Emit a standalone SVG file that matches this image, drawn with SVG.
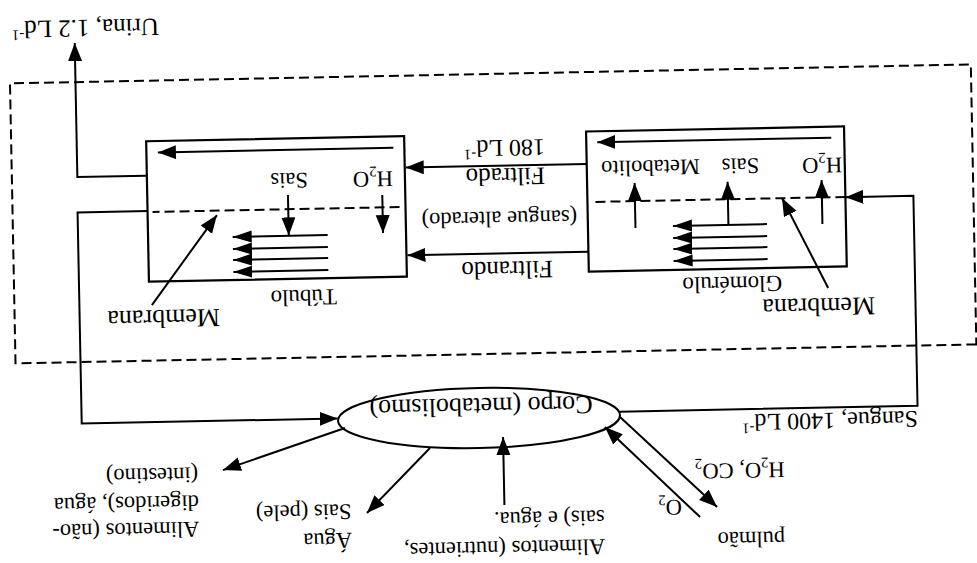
<svg xmlns="http://www.w3.org/2000/svg" width="977" height="563" viewBox="0 0 977 563">
  <defs>
    <marker id="ah" markerUnits="userSpaceOnUse" markerWidth="19" markerHeight="15" refX="18" refY="7" orient="auto">
      <path d="M0,0 L18,7 L0,14 z" fill="#000"/>
    </marker>
    <marker id="ahs" markerUnits="userSpaceOnUse" markerWidth="20" markerHeight="13" refX="19" refY="6" orient="auto">
      <path d="M0,0 L19,6 L0,12 z" fill="#000"/>
    </marker>
  </defs>
  <style>
    .ln{fill:none;stroke:#000;stroke-width:2}
    .arr{marker-end:url(#ah)}
    .st{fill:none;stroke:#000;stroke-width:2;marker-end:url(#ahs)}
    .bx{fill:none;stroke:#000;stroke-width:2.2}
    .dash{fill:none;stroke:#000;stroke-width:2;stroke-dasharray:10 5}
    text{font-family:"Liberation Serif","Times New Roman",serif;fill:#000}
    .s{font-size:22.5px}
    .m{font-size:24px}
    .f{font-size:25px}
    .l{font-size:26px}
    .sub{font-size:15px}
  </style>
  <rect width="977" height="563" fill="#fff"/>

  <!-- whole sheet is printed upside down, slightly skewed -->
  <g transform="rotate(178.87 488.5 281.5)">

    <!-- kidney system boundary -->
    <rect id="rim" class="dash" x="2" y="209" width="961" height="280"/>

    <g id="corpo">
      <ellipse class="ln" cx="500.7" cy="145.2" rx="141" ry="30"/>
      <text class="l" x="498.4" y="165" text-anchor="middle">Corpo (metabolismo)</text>
    </g>

    <g id="pulmao">
      <text class="s" x="197" y="26">pulmão</text>
      <text class="s" x="299.5" y="59.4">O<tspan class="sub" dy="5">2</tspan></text>
      <text class="s" x="196" y="95">H<tspan class="sub" dy="5">2</tspan><tspan dy="-5">O, CO</tspan><tspan class="sub" dy="5">2</tspan></text>
    </g>

    <g id="alimentos">
      <text class="s" x="377" y="21.5">Alimentos (nutrientes,</text>
      <text class="s" x="377" y="50.5">sais) e água.</text>
    </g>

    <g id="pele">
      <text class="s" x="630" y="33">Água</text>
      <text class="s" x="630" y="61.6">Sais (pele)</text>
    </g>

    <g id="intestino">
      <text class="s" x="782.5" y="47">Alimentos (não-</text>
      <text class="s" x="782.5" y="73.5">digeridos), água</text>
      <text class="s" x="782.5" y="101.4">(intestino)</text>
    </g>

    <g id="glomerulo">
      <rect class="bx" x="130" y="289.5" width="258" height="140"/>
      <path class="dash" d="M130,359 H380"/>
      <path class="st" d="M209,298.4 H303"/>
      <path class="st" d="M209,310.4 H303"/>
      <path class="st" d="M209,321.4 H303"/>
      <path class="st" d="M209,333.4 H303"/>
      <path class="ln arr" d="M153.5,332.5 V376.5"/>
      <path class="ln arr" d="M247.5,333.4 V376.5"/>
      <path class="ln arr" d="M340.5,332 V377"/>
      <path class="ln arr" d="M143,418.5 H377"/>
      <text class="s" x="132.7" y="398.5">H<tspan class="sub" dy="5">2</tspan><tspan dy="-5">O</tspan></text>
      <text class="s" x="215.7" y="399.5">Sais</text>
      <text class="s" x="274.8" y="399.5">Metabolito</text>
      <text class="s" x="195" y="281.5" style="font-size:23px">Glomérulo</text>
      <text class="l" x="102.5" y="258.2">Membrana</text>
      <path class="ln arr" d="M149,268.3 L193.4,359.2"/>
    </g>

    <g id="tubulo">
      <rect class="bx" x="570" y="288" width="258" height="140.5"/>
      <path class="dash" d="M576,357.7 H823"/>
      <path class="st" d="M648.4,296.1 H743.4"/>
      <path class="st" d="M648.4,308.1 H743.4"/>
      <path class="st" d="M648.4,319.1 H743.4"/>
      <path class="st" d="M648.4,331.1 H743.4"/>
      <path class="ln arr" d="M593,370 V332"/>
      <path class="ln arr" d="M687.3,372 V331.5"/>
      <path class="ln arr" d="M581,417 H816.5"/>
      <text class="s" x="582" y="393.6">H<tspan class="sub" dy="5">2</tspan><tspan dy="-5">O</tspan></text>
      <text class="s" x="667" y="393.9">Sais</text>
      <text class="s" x="640.3" y="276.7" style="font-size:23px">Túbulo</text>
      <text class="l" x="757.7" y="259.4">Membrana</text>
      <path class="ln arr" d="M825.5,264.6 L758.7,353.3"/>
    </g>

    <g id="connectors">
      <!-- body to lung, food, skin, gut -->
      <path class="ln arr" d="M359.7,143.4 L264.4,51.5"/>
      <path class="ln arr" d="M281.6,41.8 L375,133.7"/>
      <path class="ln arr" d="M477,57.7 V125.7"/>
      <path class="ln arr" d="M550.3,116.2 L614.6,52.4"/>
      <path class="ln arr" d="M634.9,137.8 L757.7,98.2"/>
      <!-- blood into the glomerulus -->
      <path class="ln arr" d="M360,148.8 H62 V358.8 H130"/>
      <!-- filtering between the boxes -->
      <path class="ln arr" d="M388,309.3 H569"/>
      <path class="ln arr" d="M388,397 H569"/>
      <!-- blood back to the body -->
      <path class="ln arr" d="M828,358.7 H898 V147.5 H642"/>
      <!-- urine out -->
      <path class="ln arr" d="M828,394 H897.5 V528"/>
    </g>

    <g id="labels">
      <text class="m" x="62" y="143.5">Sangue, 1400 Ld<tspan class="sub" dy="-9">-1</tspan></text>
      <text class="f" x="423.8" y="301">Filtrando</text>
      <text class="s" x="398.7" y="351.2">(sangue alterado)</text>
      <text class="f" x="430" y="394.4">Filtrado</text>
      <text class="m" x="429.4" y="422.7">180 Ld<tspan class="sub" dy="-9">-1</tspan></text>
      <text class="f" x="813" y="551">Urina, 1.2 Ld<tspan class="sub" dy="-9">-1</tspan></text>
    </g>
  </g>
</svg>
